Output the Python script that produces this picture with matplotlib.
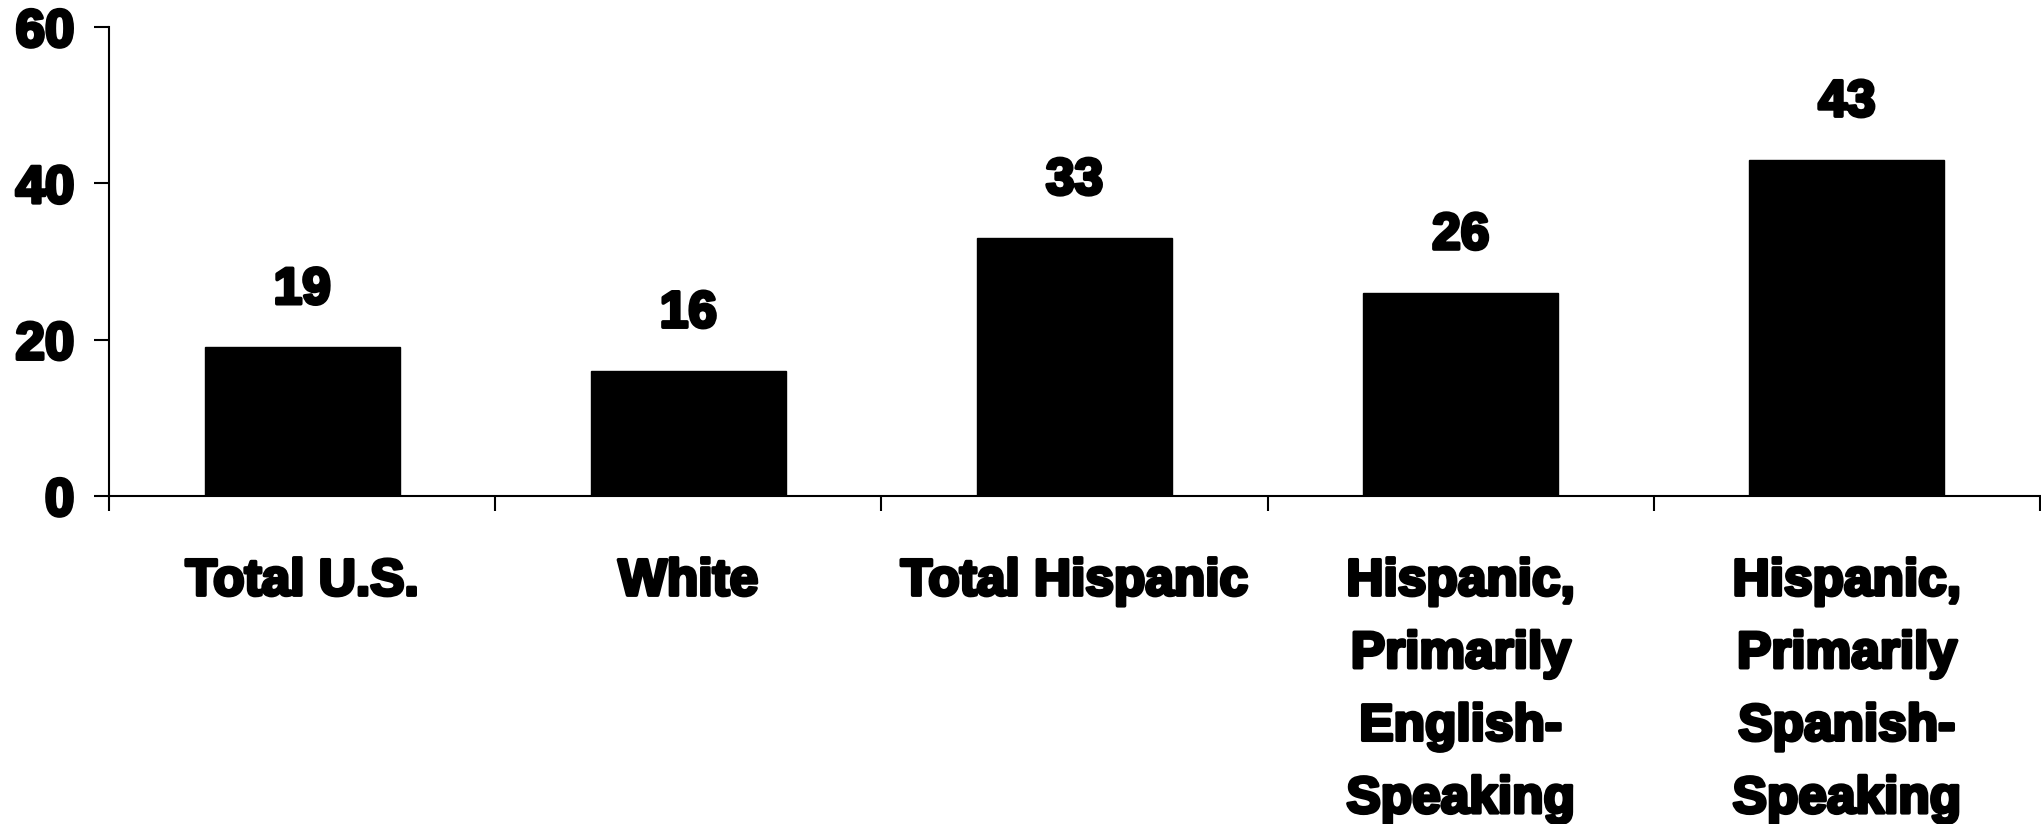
import matplotlib
matplotlib.use("Agg")
import matplotlib.pyplot as plt
import matplotlib.patheffects as pe
import numpy as np

categories = ["Total U.S.", "White", "Total Hispanic",
              "Hispanic,\nPrimarily\nEnglish-\nSpeaking",
              "Hispanic,\nPrimarily\nSpanish-\nSpeaking"]
values = [19, 16, 33, 26, 43]
yticks = [0, 20, 40, 60]

plt.rcParams['font.family'] = ['Liberation Sans', 'DejaVu Sans']
heavy = [pe.withStroke(linewidth=2.6, foreground='black')]

fig = plt.figure(figsize=(20.41, 8.24), dpi=100)
ax = fig.add_axes([109/2041, (824-496)/824, (2040-109)/2041, (496-27)/824])

x = np.arange(len(categories))
ax.bar(x, values, width=0.505, color='black', edgecolor='black')

for xi, v in zip(x, values):
    ax.text(xi, v + 5.6, f"{v}", ha='center', va='baseline',
            fontsize=37, fontweight='bold', path_effects=heavy)

ax.set_xlim(-0.5, len(categories) - 0.5)
ax.set_ylim(0, 60)

for s in ['top', 'right']:
    ax.spines[s].set_visible(False)
for s in ['left', 'bottom']:
    ax.spines[s].set_linewidth(1.5)

ax.set_yticks(yticks)
ax.set_yticklabels([str(t) for t in yticks], fontsize=38, fontweight='bold')
for lab in ax.get_yticklabels():
    lab.set_path_effects(heavy)
ax.tick_params(axis='y', direction='out', length=11, width=1.5, pad=14)

ax.set_xticks(np.arange(len(categories) + 1) - 0.5)
ax.set_xticklabels([])
ax.tick_params(axis='x', which='major', direction='out', length=11, width=1.5)
ax.set_xticks(x, minor=True)
ax.set_xticklabels(categories, minor=True, fontsize=37, fontweight='bold',
                   linespacing=1.62, va='top')
for lab in ax.get_xticklabels(minor=True):
    lab.set_path_effects(heavy)
ax.tick_params(axis='x', which='minor', length=0, pad=44)

fig.savefig("out.png", dpi=100)
